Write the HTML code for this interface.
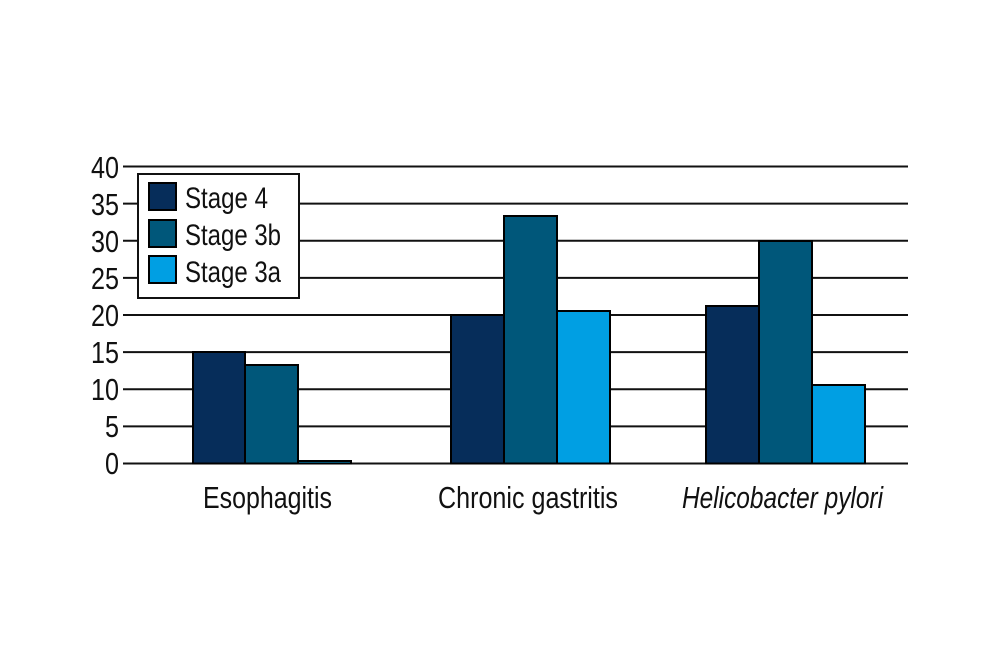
<!DOCTYPE html>
<html><head><meta charset="utf-8"><style>
html,body{margin:0;padding:0;background:#fff;}
svg{display:block;}
text{font-family:"Liberation Sans",sans-serif;fill:#111;}
</style></head><body>
<svg width="1000" height="666" viewBox="0 0 1000 666" xmlns="http://www.w3.org/2000/svg">
<g stroke="#111" stroke-width="2">
<line x1="123" y1="166.5" x2="908" y2="166.5"/>
<line x1="123" y1="203.6" x2="908" y2="203.6"/>
<line x1="123" y1="240.8" x2="908" y2="240.8"/>
<line x1="123" y1="277.9" x2="908" y2="277.9"/>
<line x1="123" y1="315" x2="908" y2="315"/>
<line x1="123" y1="352.1" x2="908" y2="352.1"/>
<line x1="123" y1="389.3" x2="908" y2="389.3"/>
<line x1="123" y1="426.4" x2="908" y2="426.4"/>
<line x1="123" y1="463.5" x2="908" y2="463.5"/>
</g>
<g font-size="31" text-anchor="end">
<text x="119" y="178" textLength="28" lengthAdjust="spacingAndGlyphs">40</text>
<text x="119" y="215" textLength="28" lengthAdjust="spacingAndGlyphs">35</text>
<text x="119" y="252" textLength="28" lengthAdjust="spacingAndGlyphs">30</text>
<text x="119" y="289" textLength="28" lengthAdjust="spacingAndGlyphs">25</text>
<text x="119" y="326" textLength="28" lengthAdjust="spacingAndGlyphs">20</text>
<text x="119" y="363" textLength="28" lengthAdjust="spacingAndGlyphs">15</text>
<text x="119" y="400" textLength="28" lengthAdjust="spacingAndGlyphs">10</text>
<text x="119" y="437" textLength="14" lengthAdjust="spacingAndGlyphs">5</text>
<text x="119" y="474" textLength="14" lengthAdjust="spacingAndGlyphs">0</text>
</g>
<g stroke="#000" stroke-width="2">
<rect x="193" y="352" width="52" height="111.5" fill="#062d5a"/>
<rect x="245" y="365" width="53" height="98.5" fill="#00577a"/>
<rect x="298" y="461" width="53" height="2.5" fill="#009fe3"/>
<rect x="451" y="315" width="53" height="148.5" fill="#062d5a"/>
<rect x="504" y="216" width="53" height="247.5" fill="#00577a"/>
<rect x="557" y="311" width="53" height="152.5" fill="#009fe3"/>
<rect x="706" y="306" width="53" height="157.5" fill="#062d5a"/>
<rect x="759" y="241" width="53" height="222.5" fill="#00577a"/>
<rect x="812" y="385" width="53" height="78.5" fill="#009fe3"/>
</g>
<rect x="138" y="174" width="161" height="124" fill="#fff" stroke="#111" stroke-width="2"/>
<g stroke="#000" stroke-width="2">
<rect x="149" y="183" width="27" height="27" fill="#062d5a"/>
<rect x="149" y="220" width="27" height="27" fill="#00577a"/>
<rect x="149" y="256" width="27" height="27" fill="#009fe3"/>
</g>
<g font-size="30">
<text x="185" y="208" textLength="83" lengthAdjust="spacingAndGlyphs">Stage 4</text>
<text x="185" y="245" textLength="96" lengthAdjust="spacingAndGlyphs">Stage 3b</text>
<text x="185" y="282" textLength="96" lengthAdjust="spacingAndGlyphs">Stage 3a</text>
</g>
<g font-size="31">
<text x="203" y="508" textLength="129" lengthAdjust="spacingAndGlyphs">Esophagitis</text>
<text x="438" y="508" textLength="180" lengthAdjust="spacingAndGlyphs">Chronic gastritis</text>
<text x="682" y="508" textLength="201" lengthAdjust="spacingAndGlyphs" font-style="italic">Helicobacter pylori</text>
</g>
</svg>
</body></html>
